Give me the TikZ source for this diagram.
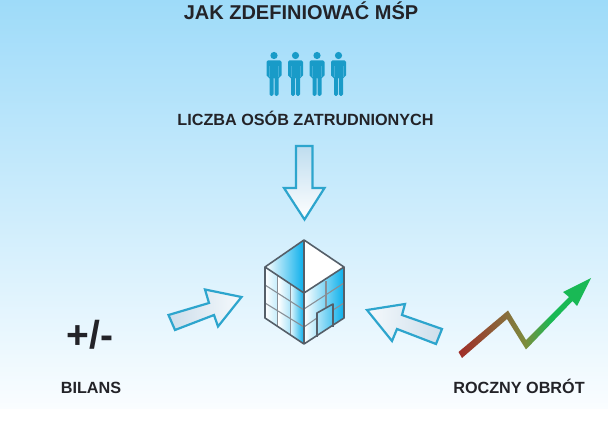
\documentclass[tikz,border=0pt]{standalone}
\usepackage{fontspec}
\setmainfont{Liberation Sans}
\definecolor{skyTop}{RGB}{158,219,249}
\definecolor{skyLow}{RGB}{250,253,255}
\definecolor{inkDark}{RGB}{35,35,40}
\definecolor{frameBlue}{RGB}{45,165,205}
\definecolor{personBlue}{RGB}{25,155,200}
\definecolor{wallGrey}{RGB}{85,95,105}
\definecolor{wallCyan}{RGB}{10,175,235}
\definecolor{arrowFrom}{RGB}{205,222,235}
\definecolor{arrowTo}{RGB}{245,249,252}
\definecolor{trendRed}{RGB}{160,45,40}
\definecolor{trendBrown}{RGB}{135,110,60}
\definecolor{trendOlive}{RGB}{125,140,60}
\definecolor{trendGreen}{RGB}{25,185,85}
\pgfdeclarehorizontalshading{trendfade}{100bp}{color(0bp)=(trendRed);color(25bp)=(trendRed);
  color(43bp)=(trendBrown);color(50bp)=(trendOlive);color(60bp)=(trendGreen);color(100bp)=(trendGreen)}

\begin{document}
\begin{tikzpicture}[
      x=1pt, y=-1pt,
      lb/.style={inner sep=0pt,text=inkDark,font=\fontsize{16.2}{18}\selectfont\bfseries},
      ar/.style={draw=frameBlue,line width=2.2pt,miter limit=6},
      wl/.style={draw=wallGrey,line width=1.6pt,line join=round},
      gd/.style={draw=wallGrey!70,line width=1.1pt}]

    \useasboundingbox (0,0) rectangle (608,435);
    \shade[top color=skyTop,bottom color=skyLow] (0,0) rectangle (608,409);

    % texts
    \node[lb,font=\fontsize{20}{22}\selectfont\bfseries] (title) at (301,11) {JAK ZDEFINIOWAĆ MŚP};
    \node[lb] (staff) at (305.5,118.5) {LICZBA OSÓB ZATRUDNIONYCH};
    \node[lb,font=\fontsize{39}{42}\selectfont\bfseries] (balance) at (90,335) {+/-};
    \node[lb] (bilans) at (91,388) {BILANS};
    \node[lb] (turnover) at (519,386.5) {ROCZNY OBRÓT};

    % people
    \foreach \px in {274,295.5,317,338.5} {
      \fill[personBlue] (\px,55.5) circle (3.6);
      \fill[personBlue,rounded corners=1.5pt] (\px-7.5,60.5) -- (\px+7.5,60.5) -- (\px+7.5,77) -- (\px+4.5,77)
        -- (\px+4.5,96) -- (\px+0.5,96) -- (\px+0.5,77) -- (\px-0.5,77) -- (\px-0.5,96) -- (\px-4.5,96)
        -- (\px-4.5,77) -- (\px-7.5,77) -- cycle;
      \draw[skyTop!30!personBlue,line width=0.7pt] (\px-4.4,66) -- (\px-4.4,77) (\px+4.4,66) -- (\px+4.4,77);
    }

    % arrows
    \shade[ar,top color=arrowFrom!70!skyTop,bottom color=white] (296,146) -- (312.5,146) -- (312.5,188)
      -- (324.5,188) -- (304.5,219.5) -- (284,188) -- (296,188) -- cycle;
    \shade[ar,left color=arrowFrom,right color=arrowTo] (168.5,315) -- (209,303) -- (205,289.5)
      -- (241.5,297) -- (218,326.5) -- (214,315) -- (175,330) -- cycle;
    \shade[ar,left color=arrowTo,right color=arrowFrom] (442,329) -- (402,315) -- (405,304)
      -- (367,310) -- (392,341) -- (397,329) -- (436,344) -- cycle;

    % building
    \fill[white] (265,267) -- (304,240) -- (344,267) -- (344,318) -- (304,344) -- (265,318) -- cycle;
    \shade[left color=white,middle color=wallCyan!35,right color=wallCyan] (265,267) -- (304,240) -- (304,293) -- cycle;
    \shade[left color=white,right color=wallCyan!25] (265,267) -- (278,276) -- (278,327) -- (265,318) -- cycle;
    \shade[left color=white,right color=wallCyan!35] (278,276) -- (291,284) -- (291,335) -- (278,327) -- cycle;
    \shade[left color=wallCyan!15,right color=wallCyan] (291,284) -- (304,293) -- (304,344) -- (291,335) -- cycle;
    \shade[left color=white,middle color=wallCyan!20,right color=wallCyan] (304,293) -- (344,267) -- (344,318) -- (304,344) -- cycle;
    \draw[gd] (277.5,276) -- (277.5,327) (290.5,284) -- (290.5,335) (326,281) -- (326,307);
    \draw[gd] (265,285) -- (304,310) (265,303) -- (304,327);
    \draw[gd] (304,309) -- (344,283) (304,327) -- (317,318) (333,310) -- (344,303);
    \draw[wl] (317,337) -- (317,313) -- (333,304) -- (333,327);
    \draw[wl] (265,267) -- (304,240) -- (344,267) -- (344,318) -- (304,344) -- (265,318) -- cycle;
    \draw[wl] (265,267) -- (304,293) -- (344,267) (304,293) -- (304,344);
    \draw[wl] (304,240) -- (304,293);

    % trend line
    \shade[shading=trendfade]
      (458.5,352) -- (508,310.5) -- (526,340) -- (569,297) -- (563,292) -- (591,278) -- (577,306)
      -- (572.5,301) -- (526,349.5) -- (507,319) -- (462,358) -- cycle;
\end{tikzpicture}
\end{document}
